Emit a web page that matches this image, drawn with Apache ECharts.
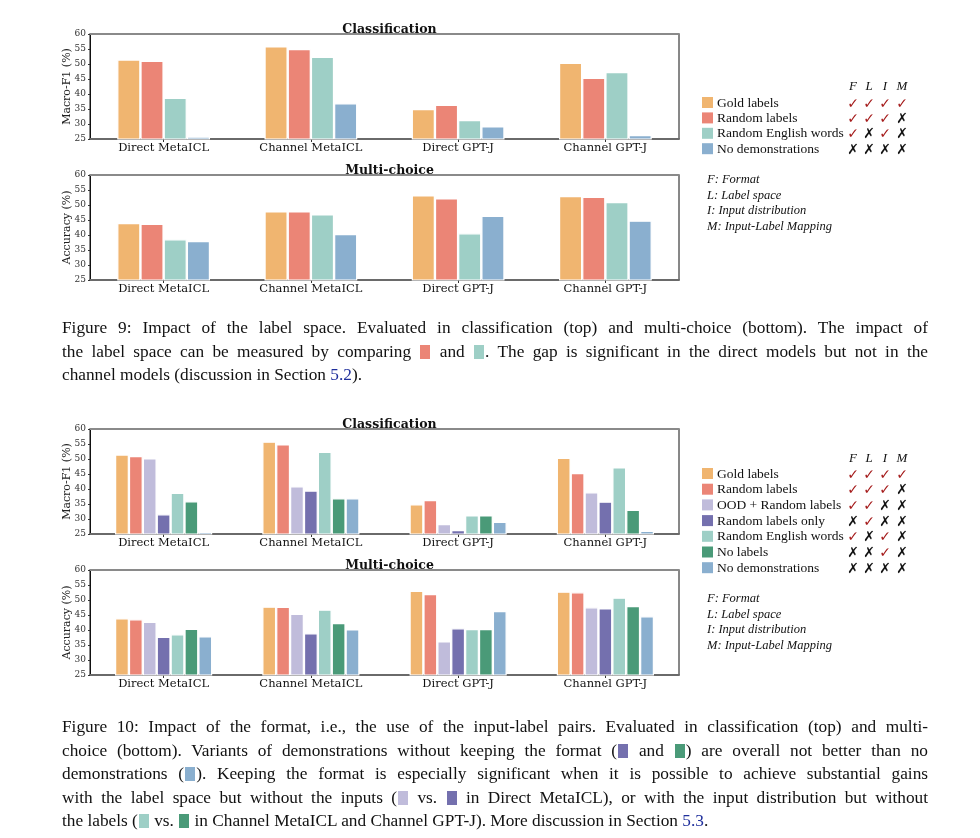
<!DOCTYPE html>
<html><head><meta charset="utf-8">
<script src="https://cdn.jsdelivr.net/npm/echarts@6/dist/echarts.min.js"></script>
<style>
html,body{margin:0;padding:0;background:#fff;width:980px;height:838px;overflow:hidden;}
#chart{position:absolute;left:0;top:0;width:980px;height:838px;}
.cap{position:absolute;left:62px;width:866px;font-family:'Liberation Serif',serif;font-size:17.3px;color:#111;white-space:nowrap;}
.ln{position:absolute;left:0;width:866px;text-align:justify;text-align-last:justify;white-space:normal;line-height:20px;}
.ln.last{text-align-last:left;}
.sw{display:inline-block;width:10px;height:14px;vertical-align:-2px;margin:0 1px;}
.ref{color:#1f2f9c;}
</style></head>
<body>
<div id="chart"></div>
<div class="cap" style="top:318px">
 <div class="ln" style="top:0">Figure 9: Impact of the label space. Evaluated in classification (top) and multi-choice (bottom). The impact of</div>
 <div class="ln" style="top:24px">the label space can be measured by comparing <span class="sw" style="background:#EB8576"></span> and <span class="sw" style="background:#9ECFC6"></span>. The gap is significant in the direct models but not in the</div>
 <div class="ln last" style="top:47px">channel models (discussion in Section <span class="ref">5.2</span>).</div>
</div>
<div class="cap" style="top:717px">
 <div class="ln" style="top:0">Figure 10: Impact of the format, i.e., the use of the input-label pairs. Evaluated in classification (top) and multi-</div>
 <div class="ln" style="top:24px">choice (bottom). Variants of demonstrations without keeping the format (<span class="sw" style="background:#7470AE"></span> and <span class="sw" style="background:#4A9A78"></span>) are overall not better than no</div>
 <div class="ln" style="top:47px">demonstrations (<span class="sw" style="background:#8AAFCF"></span>). Keeping the format is especially significant when it is possible to achieve substantial gains</div>
 <div class="ln" style="top:71px">with the label space but without the inputs (<span class="sw" style="background:#C0BCDB"></span> vs. <span class="sw" style="background:#7470AE"></span> in Direct MetaICL), or with the input distribution but without</div>
 <div class="ln last" style="top:94px">the labels (<span class="sw" style="background:#9ECFC6"></span> vs. <span class="sw" style="background:#4A9A78"></span> in Channel MetaICL and Channel GPT-J). More discussion in Section <span class="ref">5.3</span>.</div>
</div>
<script>
// ---------------- DATA ----------------
const categories = ['Direct MetaICL','Channel MetaICL','Direct GPT-J','Channel GPT-J'];
const yTicks = [25,30,35,40,45,50,55,60];

// Figure 9 - classification (Macro-F1)
const f9ClsGold    = [51.5, 55.9, 35.0, 50.4];
const f9ClsRandom  = [51.1, 55.0, 36.4, 45.4];
const f9ClsEnglish = [38.7, 52.4, 31.3, 47.3];
const f9ClsNoDemo  = [25.8, 36.9, 29.2, 26.3];
// Figure 9 - multi-choice (Accuracy)
const f9McGold    = [44.0, 47.9, 53.2, 53.0];
const f9McRandom  = [43.7, 47.9, 52.2, 52.7];
const f9McEnglish = [38.6, 46.9, 40.6, 51.0];
const f9McNoDemo  = [38.0, 40.3, 46.4, 44.8];

// Figure 10 - classification
const f10ClsGold     = [51.5, 55.8, 34.9, 50.4];
const f10ClsRandom   = [51.0, 54.9, 36.3, 45.3];
const f10ClsOOD      = [50.2, 40.9, 28.3, 38.9];
const f10ClsRLOnly   = [31.6, 39.5, 26.3, 35.8];
const f10ClsEnglish  = [38.7, 52.4, 31.2, 47.2];
const f10ClsNoLabels = [35.9, 36.9, 31.2, 33.1];
const f10ClsNoDemo   = [25.7, 36.9, 29.1, 26.1];
// Figure 10 - multi-choice
const f10McGold     = [43.9, 47.8, 53.1, 52.8];
const f10McRandom   = [43.6, 47.7, 52.0, 52.6];
const f10McOOD      = [42.7, 45.4, 36.2, 47.6];
const f10McRLOnly   = [37.7, 38.9, 40.6, 47.2];
const f10McEnglish  = [38.6, 46.8, 40.3, 50.8];
const f10McNoLabels = [40.4, 42.3, 40.3, 48.0];
const f10McNoDemo   = [37.9, 40.2, 46.3, 44.6];

// legend names and F/L/I/M checks (1 = ✓, 0 = ✗)
const legend9  = ['Gold labels','Random labels','Random English words','No demonstrations'];
const checks9  = [[1,1,1,1],[1,1,1,0],[1,0,1,0],[0,0,0,0]];
const legend10 = ['Gold labels','Random labels','OOD + Random labels','Random labels only','Random English words','No labels','No demonstrations'];
const checks10 = [[1,1,1,1],[1,1,1,0],[1,1,0,0],[0,1,0,0],[1,0,1,0],[0,0,1,0],[0,0,0,0]];
const flimHeader = ['F','L','I','M'];
const notes = ['F: Format','L: Label space','I: Input distribution','M: Input-Label Mapping'];

// ---------------- STYLE ----------------
const colorOf = {
  'Gold labels':'#F0B570','Random labels':'#EB8576','OOD + Random labels':'#C0BCDB',
  'Random labels only':'#7470AE','Random English words':'#9ECFC6','No labels':'#4A9A78',
  'No demonstrations':'#8AAFCF'
};
const SERIF = 'DejaVu Serif';
const TIMES = 'Liberation Serif';

const panels = [
  {top:34,  title:'Classification', yname:'Macro-F1 (%)', names:legend9,
   data:[f9ClsGold,f9ClsRandom,f9ClsEnglish,f9ClsNoDemo], gap:'37%'},
  {top:175, title:'Multi-choice', yname:'Accuracy (%)', names:legend9,
   data:[f9McGold,f9McRandom,f9McEnglish,f9McNoDemo], gap:'37%'},
  {top:429, title:'Classification', yname:'Macro-F1 (%)', names:legend10,
   data:[f10ClsGold,f10ClsRandom,f10ClsOOD,f10ClsRLOnly,f10ClsEnglish,f10ClsNoLabels,f10ClsNoDemo], gap:'34%'},
  {top:570, title:'Multi-choice', yname:'Accuracy (%)', names:legend10,
   data:[f10McGold,f10McRandom,f10McOOD,f10McRLOnly,f10McEnglish,f10McNoLabels,f10McNoDemo], gap:'34%'}
];
const GL = 90, GW = 589, GH = 105;

const grid=[], xAxis=[], yAxis=[], series=[], title=[];
panels.forEach((p,i)=>{
  grid.push({left:GL, top:p.top, width:GW, height:GH, show:true, borderColor:'#111', borderWidth:1, containLabel:false});
  title.push({text:p.title, left:GL+GW/2, top:p.top-16, textAlign:'center',
    textStyle:{fontFamily:SERIF, fontWeight:'bold', fontSize:12.5, color:'#111'}});
  xAxis.push({type:'category', gridIndex:i, data:categories,
    axisLine:{show:true, lineStyle:{color:'#6a6a6a', width:2}},
    axisTick:{show:true, alignWithLabel:true, length:3, lineStyle:{color:'#333'}},
    axisLabel:{fontFamily:SERIF, fontSize:11.5, color:'#111', margin:3}});
  xAxis.push({type:'category', gridIndex:i, data:categories, position:'top',
    axisLine:{show:true, lineStyle:{color:'#8a8a8a', width:2}},
    axisTick:{show:false}, axisLabel:{show:false}});
  yAxis.push({type:'value', gridIndex:i, min:25, max:60, interval:5,
    name:p.yname, nameLocation:'middle', nameGap:17, nameRotate:90, nameMoveOverlap:false,
    nameTextStyle:{fontFamily:SERIF, fontSize:11, color:'#222'},
    axisLine:{show:true, lineStyle:{color:'#111', width:1}},
    axisTick:{show:true, length:2, lineStyle:{color:'#333'}},
    splitLine:{show:false},
    axisLabel:{fontFamily:SERIF, fontSize:9, color:'#333', margin:4,
      customValues: yTicks}});
  p.names.forEach((n,k)=>{
    series.push({type:'bar', name:n, xAxisIndex:i*2, yAxisIndex:i, data:p.data[k],
      barGap:'0%', barCategoryGap:p.gap,
      itemStyle:{color:colorOf[n], borderColor:'#fff', borderWidth:1.2},
      emphasis:{disabled:true}, silent:true, animation:false});
  });
});

// ---------------- LEGEND TABLES ----------------
const graphic=[];
const checkX = [853, 869, 885, 902];
function legendBlock(names, checks, headerY, rowY0, rowStep, notesY0, noteStep){
  flimHeader.forEach((h,j)=>graphic.push({type:'text', x:checkX[j], y:headerY,
    style:{text:h, font:'italic 13px "'+TIMES+'"', fill:'#111', align:'center', verticalAlign:'middle'}}));
  names.forEach((n,r)=>{
    const y = rowY0 + r*rowStep;
    graphic.push({type:'rect', shape:{x:702, y:y-6, width:11, height:11}, style:{fill:colorOf[n]}});
    graphic.push({type:'text', x:717, y:y, style:{text:n, font:'13.5px "'+TIMES+'"', fill:'#111', verticalAlign:'middle'}});
    checks[r].forEach((c,j)=>graphic.push({type:'text', x:checkX[j], y:y+1,
      style:{text:c? '✓':'✗', font:'bold 14px "DejaVu Sans"', fill:c? '#A51C1C':'#111', align:'center', verticalAlign:'middle'}}));
  });
  notes.forEach((t,r)=>graphic.push({type:'text', x:707, y:notesY0 + r*noteStep,
    style:{text:t, font:'italic 12.5px "'+TIMES+'"', fill:'#111', verticalAlign:'middle'}}));
}
legendBlock(legend9, checks9, 87, 103, 15.4, 180, 15.5);
legendBlock(legend10, checks10, 459, 474, 15.7, 599, 15.6);

const chart = echarts.init(document.getElementById('chart'), null, {renderer:'canvas'});
chart.setOption({animation:false, grid, xAxis, yAxis, series, title, graphic});
</script>
</body></html>
